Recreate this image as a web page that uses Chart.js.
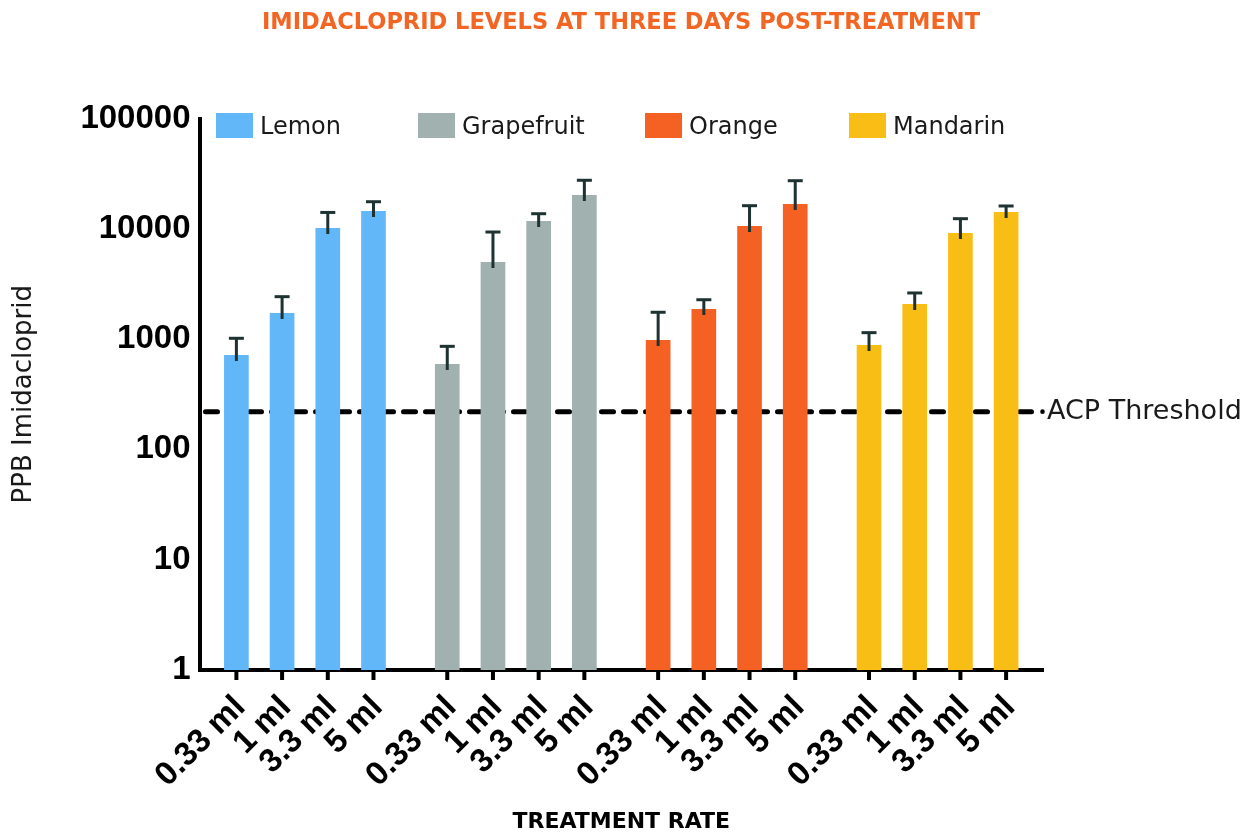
<!DOCTYPE html>
<html><head><meta charset="utf-8">
<script src="https://cdn.jsdelivr.net/npm/chart.js@4.4.1/dist/chart.umd.min.js"></script>
<style>html,body{margin:0;padding:0;background:#fff}canvas{display:block}</style>
</head><body>
<canvas id="c" width="1242" height="835"></canvas>
<script>
// ---- data ----
const fruits = ['Lemon', 'Grapefruit', 'Orange', 'Mandarin'];
const rates = ['0.33 ml', '1 ml', '3.3 ml', '5 ml'];
const lemon = [717, 1725, 10170, 14500];
const lemonErr = [300, 700, 3900, 3100];
const grapefruit = [595, 5000, 11770, 20250];
const grapefruitErr = [265, 4350, 1930, 7290];
const orange = [981, 1875, 10600, 16790];
const orangeErr = [770, 400, 5600, 10500];
const mandarin = [884, 2080, 9160, 14200];
const mandarinErr = [260, 540, 3190, 1900];
const acpThreshold = 220;
const yTickValues = [1, 10, 100, 1000, 10000, 100000];
const chartTitle = 'IMIDACLOPRID LEVELS AT THREE DAYS POST-TREATMENT';
const xTitle = 'TREATMENT RATE';
const yTitle = 'PPB Imidacloprid';
const thresholdLabel = 'ACP Threshold';

// ---- styles ----
const fruitColors = ['#62b7f9', '#a0b1b0', '#f56122', '#f9be16'];
const errColor = '#1e3232';
const seriesByFruit = [lemon, grapefruit, orange, mandarin];
const errByFruit = [lemonErr, grapefruitErr, orangeErr, mandarinErr];

const datasets = rates.map((r, i) => ({
  label: r,
  data: seriesByFruit.map(s => s[i]),
  errors: errByFruit.map(e => e[i]),
  backgroundColor: fruitColors,
  categoryPercentage: 0.8668,
  barPercentage: 0.54
}));

const decor = {
  id: 'decor',
  beforeDatasetsDraw(chart) {
    const { ctx, chartArea: ca, scales: { y } } = chart;
    const py = y.getPixelForValue(acpThreshold);
    ctx.save();
    ctx.strokeStyle = '#000';
    ctx.fillStyle = '#000';
    ctx.lineWidth = 5;
    ctx.lineCap = 'round';
    ctx.setLineDash([12, 10]);
    ctx.beginPath();
    ctx.moveTo(ca.left + 6, py);
    ctx.lineTo(ca.right - 4, py);
    ctx.stroke();
    ctx.setLineDash([]);
    ctx.beginPath();
    ctx.arc(ca.right - 0.5, py, 2.3, 0, Math.PI * 2);
    ctx.fill();
    ctx.font = '27px "DejaVu Sans"';
    ctx.textBaseline = 'middle';
    ctx.textAlign = 'left';
    ctx.fillStyle = '#1a1a1a';
    ctx.fillText(thresholdLabel, ca.right + 4, py);
    ctx.restore();
  },
  afterDatasetsDraw(chart) {
    const { ctx, scales: { y } } = chart;
    ctx.save();
    ctx.strokeStyle = errColor;
    ctx.lineWidth = 3;
    chart.data.datasets.forEach((ds, di) => {
      const meta = chart.getDatasetMeta(di);
      meta.data.forEach((bar, j) => {
        const v = ds.data[j], e = ds.errors[j];
        const top = y.getPixelForValue(v + e);
        ctx.beginPath();
        ctx.moveTo(bar.x, bar.y + 6);
        ctx.lineTo(bar.x, top);
        ctx.stroke();
        ctx.beginPath();
        ctx.moveTo(bar.x - 7.5, top);
        ctx.lineTo(bar.x + 7.5, top);
        ctx.stroke();
      });
    });
    ctx.restore();
  },
  afterDraw(chart) {
    const { ctx, chartArea: ca } = chart;
    ctx.save();
    // title
    ctx.font = 'bold 22.5px "DejaVu Sans"';
    ctx.fillStyle = '#f26522';
    ctx.textAlign = 'center';
    ctx.textBaseline = 'middle';
    ctx.fillText(chartTitle, chart.width / 2, 23);
    // legend
    const legendOffsets = [16.5, 218.5, 445.5, 649.5];
    ctx.font = '24px "DejaVu Sans"';
    ctx.textAlign = 'left';
    fruits.forEach((f, i) => {
      const x = ca.left + legendOffsets[i];
      ctx.fillStyle = fruitColors[i];
      ctx.fillRect(x, ca.top - 5.5, 37, 25);
      ctx.fillStyle = '#1a1a1a';
      ctx.fillText(f, x + 44, ca.top + 9);
    });
    // x tick marks and labels
    ctx.strokeStyle = '#000';
    ctx.lineWidth = 4;
    ctx.fillStyle = '#000';
    ctx.font = 'bold 33px "Liberation Sans"';
    ctx.textAlign = 'right';
    ctx.textBaseline = 'middle';
    chart.data.datasets.forEach((ds, di) => {
      const meta = chart.getDatasetMeta(di);
      meta.data.forEach((bar) => {
        ctx.beginPath();
        ctx.moveTo(bar.x, ca.bottom);
        ctx.lineTo(bar.x, ca.bottom + 10);
        ctx.stroke();
        ctx.save();
        ctx.translate(bar.x + 4, ca.bottom + 32);
        ctx.rotate(-Math.PI / 4);
        ctx.fillText(ds.label, 0, 0);
        ctx.restore();
      });
    });
    ctx.restore();
  }
};

new Chart(document.getElementById('c'), {
  type: 'bar',
  data: { labels: fruits, datasets },
  options: {
    responsive: false,
    animation: false,
    devicePixelRatio: 1,
    layout: { padding: { top: 118.5, right: 199, bottom: 0, left: 0 } },
    plugins: { legend: { display: false }, tooltip: { enabled: false }, title: { display: false } },
    scales: {
      x: {
        type: 'category',
        grid: { display: false, drawTicks: false },
        border: { display: true, color: '#000', width: 4 },
        ticks: { display: false },
        title: { display: true, text: xTitle, color: '#000', font: { family: 'DejaVu Sans', size: 22, weight: 'bold' }, padding: { top: 0, bottom: 0 } },
        afterFit(scale) { scale.height = 165; }
      },
      y: {
        type: 'logarithmic',
        min: 1,
        max: 100000,
        grid: { display: false, drawTicks: false },
        border: { display: true, color: '#000', width: 4 },
        afterBuildTicks(scale) { scale.ticks = yTickValues.map(v => ({ value: v })); },
        ticks: {
          padding: 9,
          color: '#000',
          font: { family: 'Liberation Sans', size: 33, weight: 'bold' },
          callback: (v) => String(v)
        },
        title: { display: true, text: yTitle, color: '#1a1a1a', font: { family: 'DejaVu Sans', size: 26 }, padding: { top: 9, bottom: 0 } },
        afterFit(scale) { scale.width = 199.5; }
      }
    }
  },
  plugins: [decor]
});
</script>
</body></html>
